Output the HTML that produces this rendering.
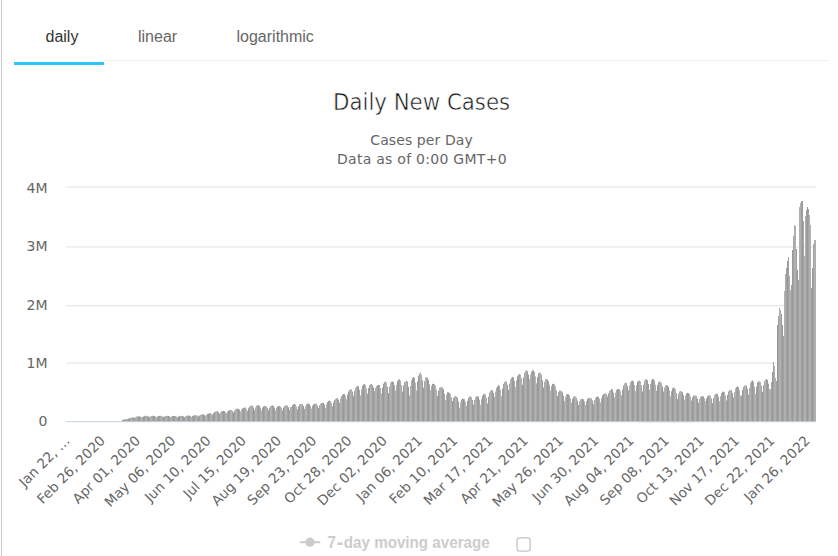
<!DOCTYPE html>
<html><head><meta charset="utf-8"><title>Daily New Cases</title>
<style>
html,body{margin:0;padding:0;background:#fff;}
body{width:838px;height:556px;overflow:hidden;position:relative;}
svg{position:absolute;left:0;top:0;display:block;}
.tabs text{font-family:"Liberation Sans",Arial,sans-serif;font-size:16px;}
.lc{font-family:"DejaVu Sans","Liberation Sans",sans-serif;}
</style></head><body>
<svg width="838" height="556" viewBox="0 0 838 556">
<rect x="0" y="0" width="838" height="556" fill="#fff"/>
<rect x="1" y="0" width="1" height="556" fill="#cccccc"/>
<g class="tabs">
<rect x="104" y="60" width="724" height="1" fill="#eeeeee"/>
<rect x="14" y="62" width="90" height="3" fill="#2bc6fc"/>
<text x="45.5" y="42" fill="#333">daily</text>
<text x="138" y="42" fill="#666">linear</text>
<text x="236.5" y="42" fill="#666">logarithmic</text>
</g>
<g class="lc">
<text x="421.6" y="110" text-anchor="middle" fill="#1a1a1a" stroke="#fff" stroke-width="0.5" style="font-family:'DejaVu Sans Condensed','DejaVu Sans',sans-serif;font-size:23.7px">Daily New Cases</text>
<text x="421.6" y="144.5" text-anchor="middle" fill="#666" font-size="14" letter-spacing="0.1">Cases per Day</text>
<text x="421.9" y="163.6" text-anchor="middle" fill="#666" font-size="14" letter-spacing="0.27">Data as of 0:00 GMT+0</text>
</g>
<g fill="#e2e2e2">
<rect x="66" y="186.45" width="750" height="1"/>
<rect x="66" y="246.45" width="750" height="1"/>
<rect x="66" y="305.3" width="750" height="1"/>
<rect x="66" y="362.6" width="750" height="1"/>
</g>
<g class="lc" fill="#666" font-size="14" text-anchor="end">
<text x="47.5" y="192.7">4M</text>
<text x="47.5" y="250.8">3M</text>
<text x="47.5" y="309.7">2M</text>
<text x="47.5" y="367.8">1M</text>
<text x="47.5" y="425.6">0</text>
</g>
<g>
<rect x="122" y="419.8" width="1" height="2.2" fill="#a7a7a7"/>
<rect x="123" y="419.6" width="1" height="2.4" fill="#9a9a9a"/>
<rect x="124" y="419.4" width="1" height="2.6" fill="#9d9d9d"/>
<rect x="125" y="419.1" width="1" height="2.9" fill="#acacac"/>
<rect x="126" y="419.0" width="1" height="3.0" fill="#b2b2b2"/>
<rect x="127" y="419.1" width="1" height="2.9" fill="#a7a7a7"/>
<rect x="128" y="418.6" width="1" height="3.4" fill="#9a9a9a"/>
<rect x="129" y="418.1" width="1" height="3.9" fill="#9d9d9d"/>
<rect x="130" y="417.8" width="1" height="4.2" fill="#acacac"/>
<rect x="131" y="417.5" width="1" height="4.5" fill="#b2b2b2"/>
<rect x="132" y="417.4" width="1" height="4.6" fill="#a6a6a6"/>
<rect x="133" y="417.5" width="1" height="4.5" fill="#9a9a9a"/>
<rect x="134" y="417.9" width="1" height="4.1" fill="#9d9d9d"/>
<rect x="135" y="417.1" width="1" height="4.9" fill="#acacac"/>
<rect x="136" y="416.5" width="1" height="5.5" fill="#b2b2b2"/>
<rect x="137" y="416.4" width="1" height="5.6" fill="#a6a6a6"/>
<rect x="138" y="416.3" width="1" height="5.7" fill="#9a9a9a"/>
<rect x="139" y="416.3" width="1" height="5.7" fill="#9e9e9e"/>
<rect x="140" y="416.7" width="1" height="5.3" fill="#acacac"/>
<rect x="141" y="416.7" width="1" height="5.3" fill="#b2b2b2"/>
<rect x="142" y="417.3" width="1" height="4.7" fill="#a6a6a6"/>
<rect x="143" y="416.5" width="1" height="5.5" fill="#9a9a9a"/>
<rect x="144" y="416.0" width="1" height="6.0" fill="#9e9e9e"/>
<rect x="145" y="415.8" width="1" height="6.2" fill="#acacac"/>
<rect x="146" y="415.8" width="1" height="6.2" fill="#b2b2b2"/>
<rect x="147" y="415.9" width="1" height="6.1" fill="#a6a6a6"/>
<rect x="148" y="416.4" width="1" height="5.6" fill="#9a9a9a"/>
<rect x="149" y="417.1" width="1" height="4.9" fill="#9e9e9e"/>
<rect x="150" y="416.4" width="1" height="5.6" fill="#adadad"/>
<rect x="151" y="416.0" width="1" height="6.0" fill="#b1b1b1"/>
<rect x="152" y="415.8" width="1" height="6.2" fill="#a6a6a6"/>
<rect x="153" y="415.8" width="1" height="6.2" fill="#9a9a9a"/>
<rect x="154" y="415.9" width="1" height="6.1" fill="#9e9e9e"/>
<rect x="155" y="416.4" width="1" height="5.6" fill="#adadad"/>
<rect x="156" y="417.1" width="1" height="4.9" fill="#b1b1b1"/>
<rect x="157" y="416.4" width="1" height="5.6" fill="#a6a6a6"/>
<rect x="158" y="416.0" width="1" height="6.0" fill="#9a9a9a"/>
<rect x="159" y="415.8" width="1" height="6.2" fill="#9e9e9e"/>
<rect x="160" y="415.8" width="1" height="6.2" fill="#adadad"/>
<rect x="161" y="415.9" width="1" height="6.1" fill="#b1b1b1"/>
<rect x="162" y="416.4" width="1" height="5.6" fill="#a5a5a5"/>
<rect x="163" y="417.1" width="1" height="4.9" fill="#9a9a9a"/>
<rect x="164" y="416.4" width="1" height="5.6" fill="#9e9e9e"/>
<rect x="165" y="416.0" width="1" height="6.0" fill="#adadad"/>
<rect x="166" y="415.9" width="1" height="6.1" fill="#b1b1b1"/>
<rect x="167" y="415.8" width="1" height="6.2" fill="#a5a5a5"/>
<rect x="168" y="416.0" width="1" height="6.0" fill="#9a9a9a"/>
<rect x="169" y="416.4" width="1" height="5.6" fill="#9e9e9e"/>
<rect x="170" y="417.2" width="1" height="4.8" fill="#adadad"/>
<rect x="171" y="416.4" width="1" height="5.6" fill="#b1b1b1"/>
<rect x="172" y="416.0" width="1" height="6.0" fill="#a5a5a5"/>
<rect x="173" y="415.9" width="1" height="6.1" fill="#999999"/>
<rect x="174" y="415.9" width="1" height="6.1" fill="#9f9f9f"/>
<rect x="175" y="416.0" width="1" height="6.0" fill="#adadad"/>
<rect x="176" y="416.5" width="1" height="5.5" fill="#b1b1b1"/>
<rect x="177" y="417.2" width="1" height="4.8" fill="#a5a5a5"/>
<rect x="178" y="416.5" width="1" height="5.5" fill="#999999"/>
<rect x="179" y="416.1" width="1" height="5.9" fill="#9f9f9f"/>
<rect x="180" y="415.9" width="1" height="6.1" fill="#adadad"/>
<rect x="181" y="415.8" width="1" height="6.2" fill="#b1b1b1"/>
<rect x="182" y="415.9" width="1" height="6.1" fill="#a5a5a5"/>
<rect x="183" y="416.4" width="1" height="5.6" fill="#999999"/>
<rect x="184" y="417.1" width="1" height="4.9" fill="#9f9f9f"/>
<rect x="185" y="416.3" width="1" height="5.7" fill="#adadad"/>
<rect x="186" y="415.8" width="1" height="6.2" fill="#b1b1b1"/>
<rect x="187" y="415.6" width="1" height="6.4" fill="#a5a5a5"/>
<rect x="188" y="415.5" width="1" height="6.5" fill="#999999"/>
<rect x="189" y="415.6" width="1" height="6.4" fill="#9f9f9f"/>
<rect x="190" y="416.1" width="1" height="5.9" fill="#aeaeae"/>
<rect x="191" y="416.8" width="1" height="5.2" fill="#b1b1b1"/>
<rect x="192" y="416.0" width="1" height="6.0" fill="#a4a4a4"/>
<rect x="193" y="415.5" width="1" height="6.5" fill="#999999"/>
<rect x="194" y="415.3" width="1" height="6.7" fill="#9f9f9f"/>
<rect x="195" y="415.2" width="1" height="6.8" fill="#aeaeae"/>
<rect x="196" y="415.3" width="1" height="6.7" fill="#b1b1b1"/>
<rect x="197" y="415.7" width="1" height="6.3" fill="#a4a4a4"/>
<rect x="198" y="416.5" width="1" height="5.5" fill="#999999"/>
<rect x="199" y="415.5" width="1" height="6.5" fill="#9f9f9f"/>
<rect x="200" y="414.8" width="1" height="7.2" fill="#aeaeae"/>
<rect x="201" y="414.5" width="1" height="7.5" fill="#b1b1b1"/>
<rect x="202" y="414.3" width="1" height="7.7" fill="#a4a4a4"/>
<rect x="203" y="414.4" width="1" height="7.6" fill="#999999"/>
<rect x="204" y="414.9" width="1" height="7.1" fill="#9f9f9f"/>
<rect x="205" y="415.8" width="1" height="6.2" fill="#aeaeae"/>
<rect x="206" y="414.6" width="1" height="7.4" fill="#b1b1b1"/>
<rect x="207" y="413.8" width="1" height="8.2" fill="#a4a4a4"/>
<rect x="208" y="413.5" width="1" height="8.5" fill="#999999"/>
<rect x="209" y="413.3" width="1" height="8.7" fill="#a0a0a0"/>
<rect x="210" y="413.2" width="1" height="8.8" fill="#aeaeae"/>
<rect x="211" y="413.7" width="1" height="8.3" fill="#b1b1b1"/>
<rect x="212" y="414.7" width="1" height="7.3" fill="#a4a4a4"/>
<rect x="213" y="413.1" width="1" height="8.9" fill="#999999"/>
<rect x="214" y="412.1" width="1" height="9.9" fill="#a0a0a0"/>
<rect x="215" y="411.5" width="1" height="10.5" fill="#aeaeae"/>
<rect x="216" y="411.1" width="1" height="10.9" fill="#b1b1b1"/>
<rect x="217" y="411.3" width="1" height="10.7" fill="#a4a4a4"/>
<rect x="218" y="412.2" width="1" height="9.8" fill="#999999"/>
<rect x="219" y="413.7" width="1" height="8.3" fill="#a0a0a0"/>
<rect x="220" y="412.2" width="1" height="9.8" fill="#aeaeae"/>
<rect x="221" y="411.3" width="1" height="10.7" fill="#b1b1b1"/>
<rect x="222" y="411.0" width="1" height="11.0" fill="#a3a3a3"/>
<rect x="223" y="410.9" width="1" height="11.1" fill="#999999"/>
<rect x="224" y="411.2" width="1" height="10.8" fill="#a0a0a0"/>
<rect x="225" y="412.0" width="1" height="10.0" fill="#aeaeae"/>
<rect x="226" y="413.4" width="1" height="8.6" fill="#b1b1b1"/>
<rect x="227" y="411.7" width="1" height="10.3" fill="#a3a3a3"/>
<rect x="228" y="410.6" width="1" height="11.4" fill="#999999"/>
<rect x="229" y="410.1" width="1" height="11.9" fill="#a0a0a0"/>
<rect x="230" y="409.9" width="1" height="12.1" fill="#afafaf"/>
<rect x="231" y="410.0" width="1" height="12.0" fill="#b0b0b0"/>
<rect x="232" y="410.9" width="1" height="11.1" fill="#a3a3a3"/>
<rect x="233" y="412.5" width="1" height="9.5" fill="#999999"/>
<rect x="234" y="410.6" width="1" height="11.4" fill="#a0a0a0"/>
<rect x="235" y="409.3" width="1" height="12.7" fill="#afafaf"/>
<rect x="236" y="408.8" width="1" height="13.2" fill="#b0b0b0"/>
<rect x="237" y="408.6" width="1" height="13.4" fill="#a3a3a3"/>
<rect x="238" y="408.8" width="1" height="13.2" fill="#999999"/>
<rect x="239" y="409.8" width="1" height="12.2" fill="#a0a0a0"/>
<rect x="240" y="411.6" width="1" height="10.4" fill="#afafaf"/>
<rect x="241" y="409.6" width="1" height="12.4" fill="#b0b0b0"/>
<rect x="242" y="408.3" width="1" height="13.7" fill="#a3a3a3"/>
<rect x="243" y="407.8" width="1" height="14.2" fill="#999999"/>
<rect x="244" y="407.5" width="1" height="14.5" fill="#a1a1a1"/>
<rect x="245" y="407.6" width="1" height="14.4" fill="#afafaf"/>
<rect x="246" y="408.8" width="1" height="13.2" fill="#b0b0b0"/>
<rect x="247" y="410.9" width="1" height="11.1" fill="#a3a3a3"/>
<rect x="248" y="408.3" width="1" height="13.7" fill="#999999"/>
<rect x="249" y="406.6" width="1" height="15.4" fill="#a1a1a1"/>
<rect x="250" y="405.8" width="1" height="16.2" fill="#afafaf"/>
<rect x="251" y="405.4" width="1" height="16.6" fill="#b0b0b0"/>
<rect x="252" y="405.8" width="1" height="16.2" fill="#a3a3a3"/>
<rect x="253" y="407.5" width="1" height="14.5" fill="#999999"/>
<rect x="254" y="410.2" width="1" height="11.8" fill="#a1a1a1"/>
<rect x="255" y="407.4" width="1" height="14.6" fill="#afafaf"/>
<rect x="256" y="405.8" width="1" height="16.2" fill="#b0b0b0"/>
<rect x="257" y="405.2" width="1" height="16.8" fill="#a2a2a2"/>
<rect x="258" y="405.2" width="1" height="16.8" fill="#999999"/>
<rect x="259" y="405.8" width="1" height="16.2" fill="#a1a1a1"/>
<rect x="260" y="407.6" width="1" height="14.4" fill="#afafaf"/>
<rect x="261" y="410.3" width="1" height="11.7" fill="#b0b0b0"/>
<rect x="262" y="407.7" width="1" height="14.3" fill="#a2a2a2"/>
<rect x="263" y="406.3" width="1" height="15.7" fill="#999999"/>
<rect x="264" y="406.0" width="1" height="16.0" fill="#a1a1a1"/>
<rect x="265" y="406.1" width="1" height="15.9" fill="#afafaf"/>
<rect x="266" y="406.4" width="1" height="15.6" fill="#b0b0b0"/>
<rect x="267" y="407.9" width="1" height="14.1" fill="#a2a2a2"/>
<rect x="268" y="410.3" width="1" height="11.7" fill="#999999"/>
<rect x="269" y="407.7" width="1" height="14.3" fill="#a1a1a1"/>
<rect x="270" y="406.1" width="1" height="15.9" fill="#afafaf"/>
<rect x="271" y="405.5" width="1" height="16.5" fill="#b0b0b0"/>
<rect x="272" y="405.3" width="1" height="16.7" fill="#a2a2a2"/>
<rect x="273" y="405.9" width="1" height="16.1" fill="#999999"/>
<rect x="274" y="407.7" width="1" height="14.3" fill="#a1a1a1"/>
<rect x="275" y="410.4" width="1" height="11.6" fill="#b0b0b0"/>
<rect x="276" y="407.8" width="1" height="14.2" fill="#b0b0b0"/>
<rect x="277" y="406.4" width="1" height="15.6" fill="#a2a2a2"/>
<rect x="278" y="406.0" width="1" height="16.0" fill="#999999"/>
<rect x="279" y="406.0" width="1" height="16.0" fill="#a2a2a2"/>
<rect x="280" y="406.4" width="1" height="15.6" fill="#b0b0b0"/>
<rect x="281" y="407.8" width="1" height="14.2" fill="#b0b0b0"/>
<rect x="282" y="410.2" width="1" height="11.8" fill="#a2a2a2"/>
<rect x="283" y="407.7" width="1" height="14.3" fill="#999999"/>
<rect x="284" y="406.1" width="1" height="15.9" fill="#a2a2a2"/>
<rect x="285" y="405.5" width="1" height="16.5" fill="#b0b0b0"/>
<rect x="286" y="405.3" width="1" height="16.7" fill="#b0b0b0"/>
<rect x="287" y="405.7" width="1" height="16.3" fill="#a1a1a1"/>
<rect x="288" y="407.2" width="1" height="14.8" fill="#999999"/>
<rect x="289" y="409.8" width="1" height="12.2" fill="#a2a2a2"/>
<rect x="290" y="406.9" width="1" height="15.1" fill="#b0b0b0"/>
<rect x="291" y="406.9" width="1" height="15.1" fill="#afafaf"/>
<rect x="292" y="405.0" width="1" height="17.0" fill="#a1a1a1"/>
<rect x="293" y="404.3" width="1" height="17.7" fill="#999999"/>
<rect x="294" y="404.0" width="1" height="18.0" fill="#a2a2a2"/>
<rect x="295" y="404.5" width="1" height="17.5" fill="#b0b0b0"/>
<rect x="296" y="406.4" width="1" height="15.6" fill="#afafaf"/>
<rect x="297" y="409.3" width="1" height="12.7" fill="#a1a1a1"/>
<rect x="298" y="406.3" width="1" height="15.7" fill="#999999"/>
<rect x="299" y="404.5" width="1" height="17.5" fill="#a2a2a2"/>
<rect x="300" y="404.0" width="1" height="18.0" fill="#b0b0b0"/>
<rect x="301" y="403.9" width="1" height="18.1" fill="#afafaf"/>
<rect x="302" y="404.4" width="1" height="17.6" fill="#a1a1a1"/>
<rect x="303" y="406.1" width="1" height="15.9" fill="#999999"/>
<rect x="304" y="408.9" width="1" height="13.1" fill="#a2a2a2"/>
<rect x="305" y="406.0" width="1" height="16.0" fill="#b0b0b0"/>
<rect x="306" y="404.3" width="1" height="17.7" fill="#afafaf"/>
<rect x="307" y="403.7" width="1" height="18.3" fill="#a1a1a1"/>
<rect x="308" y="403.6" width="1" height="18.4" fill="#999999"/>
<rect x="309" y="404.1" width="1" height="17.9" fill="#a3a3a3"/>
<rect x="310" y="405.8" width="1" height="16.2" fill="#b0b0b0"/>
<rect x="311" y="408.5" width="1" height="13.5" fill="#afafaf"/>
<rect x="312" y="405.8" width="1" height="16.2" fill="#a1a1a1"/>
<rect x="313" y="404.2" width="1" height="17.8" fill="#999999"/>
<rect x="314" y="403.7" width="1" height="18.3" fill="#a3a3a3"/>
<rect x="315" y="403.6" width="1" height="18.4" fill="#b0b0b0"/>
<rect x="316" y="403.9" width="1" height="18.1" fill="#afafaf"/>
<rect x="317" y="405.6" width="1" height="16.4" fill="#a1a1a1"/>
<rect x="318" y="408.2" width="1" height="13.8" fill="#999999"/>
<rect x="319" y="405.4" width="1" height="16.6" fill="#a3a3a3"/>
<rect x="320" y="403.6" width="1" height="18.4" fill="#b0b0b0"/>
<rect x="321" y="403.0" width="1" height="19.0" fill="#afafaf"/>
<rect x="322" y="402.7" width="1" height="19.3" fill="#a0a0a0"/>
<rect x="323" y="403.0" width="1" height="19.0" fill="#999999"/>
<rect x="324" y="404.7" width="1" height="17.3" fill="#a3a3a3"/>
<rect x="325" y="407.8" width="1" height="14.2" fill="#b0b0b0"/>
<rect x="326" y="404.3" width="1" height="17.7" fill="#afafaf"/>
<rect x="327" y="401.9" width="1" height="20.1" fill="#a0a0a0"/>
<rect x="328" y="401.0" width="1" height="21.0" fill="#999999"/>
<rect x="329" y="400.5" width="1" height="21.5" fill="#a3a3a3"/>
<rect x="330" y="401.0" width="1" height="21.0" fill="#b0b0b0"/>
<rect x="331" y="403.1" width="1" height="18.9" fill="#afafaf"/>
<rect x="332" y="406.4" width="1" height="15.6" fill="#a0a0a0"/>
<rect x="333" y="402.3" width="1" height="19.7" fill="#999999"/>
<rect x="334" y="399.9" width="1" height="22.1" fill="#a3a3a3"/>
<rect x="335" y="398.9" width="1" height="23.1" fill="#b1b1b1"/>
<rect x="336" y="398.2" width="1" height="23.8" fill="#aeaeae"/>
<rect x="337" y="398.2" width="1" height="23.8" fill="#a0a0a0"/>
<rect x="338" y="399.8" width="1" height="22.2" fill="#999999"/>
<rect x="339" y="402.6" width="1" height="19.4" fill="#a3a3a3"/>
<rect x="340" y="398.6" width="1" height="23.4" fill="#b1b1b1"/>
<rect x="341" y="396.0" width="1" height="26.0" fill="#aeaeae"/>
<rect x="342" y="394.7" width="1" height="27.3" fill="#a0a0a0"/>
<rect x="343" y="394.0" width="1" height="28.0" fill="#999999"/>
<rect x="344" y="394.0" width="1" height="28.0" fill="#a4a4a4"/>
<rect x="345" y="395.8" width="1" height="26.2" fill="#b1b1b1"/>
<rect x="346" y="399.2" width="1" height="22.8" fill="#aeaeae"/>
<rect x="347" y="394.6" width="1" height="27.4" fill="#a0a0a0"/>
<rect x="348" y="391.5" width="1" height="30.5" fill="#999999"/>
<rect x="349" y="390.0" width="1" height="32.0" fill="#a4a4a4"/>
<rect x="350" y="389.1" width="1" height="32.9" fill="#b1b1b1"/>
<rect x="351" y="389.4" width="1" height="32.6" fill="#aeaeae"/>
<rect x="352" y="391.7" width="1" height="30.3" fill="#a0a0a0"/>
<rect x="353" y="395.8" width="1" height="26.2" fill="#999999"/>
<rect x="354" y="391.1" width="1" height="30.9" fill="#a4a4a4"/>
<rect x="355" y="387.9" width="1" height="34.1" fill="#b1b1b1"/>
<rect x="356" y="386.5" width="1" height="35.5" fill="#aeaeae"/>
<rect x="357" y="385.9" width="1" height="36.1" fill="#9f9f9f"/>
<rect x="358" y="386.4" width="1" height="35.6" fill="#999999"/>
<rect x="359" y="389.7" width="1" height="32.3" fill="#a4a4a4"/>
<rect x="360" y="395.3" width="1" height="26.7" fill="#b1b1b1"/>
<rect x="361" y="389.4" width="1" height="32.6" fill="#aeaeae"/>
<rect x="362" y="385.7" width="1" height="36.3" fill="#9f9f9f"/>
<rect x="363" y="384.4" width="1" height="37.6" fill="#999999"/>
<rect x="364" y="384.0" width="1" height="38.0" fill="#a4a4a4"/>
<rect x="365" y="384.9" width="1" height="37.1" fill="#b1b1b1"/>
<rect x="366" y="388.4" width="1" height="33.6" fill="#aeaeae"/>
<rect x="367" y="393.7" width="1" height="28.3" fill="#9f9f9f"/>
<rect x="368" y="388.1" width="1" height="33.9" fill="#999999"/>
<rect x="369" y="385.0" width="1" height="37.0" fill="#a4a4a4"/>
<rect x="370" y="384.1" width="1" height="37.9" fill="#b1b1b1"/>
<rect x="371" y="383.9" width="1" height="38.1" fill="#aeaeae"/>
<rect x="372" y="384.9" width="1" height="37.1" fill="#9f9f9f"/>
<rect x="373" y="387.4" width="1" height="34.6" fill="#999999"/>
<rect x="374" y="391.0" width="1" height="31.0" fill="#a5a5a5"/>
<rect x="375" y="387.8" width="1" height="34.2" fill="#b1b1b1"/>
<rect x="376" y="385.9" width="1" height="36.1" fill="#aeaeae"/>
<rect x="377" y="385.4" width="1" height="36.6" fill="#9f9f9f"/>
<rect x="378" y="384.8" width="1" height="37.2" fill="#999999"/>
<rect x="379" y="385.1" width="1" height="36.9" fill="#a5a5a5"/>
<rect x="380" y="387.9" width="1" height="34.1" fill="#b1b1b1"/>
<rect x="381" y="393.3" width="1" height="28.7" fill="#adadad"/>
<rect x="382" y="387.7" width="1" height="34.3" fill="#9f9f9f"/>
<rect x="383" y="383.7" width="1" height="38.3" fill="#999999"/>
<rect x="384" y="382.1" width="1" height="39.9" fill="#a5a5a5"/>
<rect x="385" y="381.4" width="1" height="40.6" fill="#b1b1b1"/>
<rect x="386" y="382.6" width="1" height="39.4" fill="#adadad"/>
<rect x="387" y="386.7" width="1" height="35.3" fill="#9f9f9f"/>
<rect x="388" y="393.1" width="1" height="28.9" fill="#999999"/>
<rect x="389" y="386.5" width="1" height="35.5" fill="#a5a5a5"/>
<rect x="390" y="382.7" width="1" height="39.3" fill="#b1b1b1"/>
<rect x="391" y="381.6" width="1" height="40.4" fill="#adadad"/>
<rect x="392" y="381.4" width="1" height="40.6" fill="#9e9e9e"/>
<rect x="393" y="382.1" width="1" height="39.9" fill="#9a9a9a"/>
<rect x="394" y="385.3" width="1" height="36.7" fill="#a5a5a5"/>
<rect x="395" y="390.5" width="1" height="31.5" fill="#b1b1b1"/>
<rect x="396" y="384.8" width="1" height="37.2" fill="#adadad"/>
<rect x="397" y="381.0" width="1" height="41.0" fill="#9e9e9e"/>
<rect x="398" y="379.6" width="1" height="42.4" fill="#9a9a9a"/>
<rect x="399" y="379.1" width="1" height="42.9" fill="#a5a5a5"/>
<rect x="400" y="380.6" width="1" height="41.4" fill="#b1b1b1"/>
<rect x="401" y="385.0" width="1" height="37.0" fill="#adadad"/>
<rect x="402" y="391.6" width="1" height="30.4" fill="#9e9e9e"/>
<rect x="403" y="385.7" width="1" height="36.3" fill="#9a9a9a"/>
<rect x="404" y="382.2" width="1" height="39.8" fill="#a6a6a6"/>
<rect x="405" y="381.4" width="1" height="40.6" fill="#b1b1b1"/>
<rect x="406" y="380.8" width="1" height="41.2" fill="#adadad"/>
<rect x="407" y="381.7" width="1" height="40.3" fill="#9e9e9e"/>
<rect x="408" y="386.8" width="1" height="35.2" fill="#9a9a9a"/>
<rect x="409" y="395.5" width="1" height="26.5" fill="#a6a6a6"/>
<rect x="410" y="386.0" width="1" height="36.0" fill="#b1b1b1"/>
<rect x="411" y="380.1" width="1" height="41.9" fill="#adadad"/>
<rect x="412" y="378.0" width="1" height="44.0" fill="#9e9e9e"/>
<rect x="413" y="377.0" width="1" height="45.0" fill="#9a9a9a"/>
<rect x="414" y="377.9" width="1" height="44.1" fill="#a6a6a6"/>
<rect x="415" y="382.7" width="1" height="39.3" fill="#b2b2b2"/>
<rect x="416" y="390.4" width="1" height="31.6" fill="#acacac"/>
<rect x="417" y="381.4" width="1" height="40.6" fill="#9e9e9e"/>
<rect x="418" y="375.7" width="1" height="46.3" fill="#9a9a9a"/>
<rect x="419" y="373.5" width="1" height="48.5" fill="#a6a6a6"/>
<rect x="420" y="372.5" width="1" height="49.5" fill="#b2b2b2"/>
<rect x="421" y="374.6" width="1" height="47.4" fill="#acacac"/>
<rect x="422" y="380.2" width="1" height="41.8" fill="#9e9e9e"/>
<rect x="423" y="387.8" width="1" height="34.2" fill="#9a9a9a"/>
<rect x="424" y="381.1" width="1" height="40.9" fill="#a6a6a6"/>
<rect x="425" y="377.6" width="1" height="44.4" fill="#b2b2b2"/>
<rect x="426" y="377.1" width="1" height="44.9" fill="#acacac"/>
<rect x="427" y="377.6" width="1" height="44.4" fill="#9e9e9e"/>
<rect x="428" y="379.6" width="1" height="42.4" fill="#9a9a9a"/>
<rect x="429" y="384.1" width="1" height="37.9" fill="#a6a6a6"/>
<rect x="430" y="389.9" width="1" height="32.1" fill="#b2b2b2"/>
<rect x="431" y="385.8" width="1" height="36.2" fill="#acacac"/>
<rect x="432" y="383.8" width="1" height="38.2" fill="#9d9d9d"/>
<rect x="433" y="383.9" width="1" height="38.1" fill="#9a9a9a"/>
<rect x="434" y="384.3" width="1" height="37.7" fill="#a7a7a7"/>
<rect x="435" y="385.7" width="1" height="36.3" fill="#b2b2b2"/>
<rect x="436" y="389.6" width="1" height="32.4" fill="#acacac"/>
<rect x="437" y="395.9" width="1" height="26.1" fill="#9d9d9d"/>
<rect x="438" y="390.8" width="1" height="31.2" fill="#9a9a9a"/>
<rect x="439" y="387.8" width="1" height="34.2" fill="#a7a7a7"/>
<rect x="440" y="387.2" width="1" height="34.8" fill="#b2b2b2"/>
<rect x="441" y="387.2" width="1" height="34.8" fill="#acacac"/>
<rect x="442" y="387.5" width="1" height="34.5" fill="#9d9d9d"/>
<rect x="443" y="389.3" width="1" height="32.7" fill="#9a9a9a"/>
<rect x="444" y="393.7" width="1" height="28.3" fill="#a7a7a7"/>
<rect x="445" y="399.9" width="1" height="22.1" fill="#b2b2b2"/>
<rect x="446" y="394.9" width="1" height="27.1" fill="#acacac"/>
<rect x="447" y="392.4" width="1" height="29.6" fill="#9d9d9d"/>
<rect x="448" y="392.3" width="1" height="29.7" fill="#9a9a9a"/>
<rect x="449" y="392.8" width="1" height="29.2" fill="#a7a7a7"/>
<rect x="450" y="394.1" width="1" height="27.9" fill="#b2b2b2"/>
<rect x="451" y="397.1" width="1" height="24.9" fill="#ababab"/>
<rect x="452" y="401.1" width="1" height="20.9" fill="#9d9d9d"/>
<rect x="453" y="398.0" width="1" height="24.0" fill="#9a9a9a"/>
<rect x="454" y="396.3" width="1" height="25.7" fill="#a7a7a7"/>
<rect x="455" y="396.1" width="1" height="25.9" fill="#b2b2b2"/>
<rect x="456" y="396.5" width="1" height="25.5" fill="#ababab"/>
<rect x="457" y="397.7" width="1" height="24.3" fill="#9d9d9d"/>
<rect x="458" y="401.6" width="1" height="20.4" fill="#9a9a9a"/>
<rect x="459" y="407.7" width="1" height="14.3" fill="#a7a7a7"/>
<rect x="460" y="402.2" width="1" height="19.8" fill="#b2b2b2"/>
<rect x="461" y="399.5" width="1" height="22.5" fill="#ababab"/>
<rect x="462" y="398.9" width="1" height="23.1" fill="#9d9d9d"/>
<rect x="463" y="398.8" width="1" height="23.2" fill="#9a9a9a"/>
<rect x="464" y="399.2" width="1" height="22.8" fill="#a8a8a8"/>
<rect x="465" y="401.7" width="1" height="20.3" fill="#b2b2b2"/>
<rect x="466" y="406.1" width="1" height="15.9" fill="#ababab"/>
<rect x="467" y="401.0" width="1" height="21.0" fill="#9d9d9d"/>
<rect x="468" y="397.8" width="1" height="24.2" fill="#9a9a9a"/>
<rect x="469" y="396.5" width="1" height="25.5" fill="#a8a8a8"/>
<rect x="470" y="396.3" width="1" height="25.7" fill="#b2b2b2"/>
<rect x="471" y="397.2" width="1" height="24.8" fill="#ababab"/>
<rect x="472" y="400.1" width="1" height="21.9" fill="#9c9c9c"/>
<rect x="473" y="404.5" width="1" height="17.5" fill="#9b9b9b"/>
<rect x="474" y="400.0" width="1" height="22.0" fill="#a8a8a8"/>
<rect x="475" y="397.3" width="1" height="24.7" fill="#b2b2b2"/>
<rect x="476" y="396.5" width="1" height="25.5" fill="#ababab"/>
<rect x="477" y="396.1" width="1" height="25.9" fill="#9c9c9c"/>
<rect x="478" y="396.7" width="1" height="25.3" fill="#9b9b9b"/>
<rect x="479" y="399.7" width="1" height="22.3" fill="#a8a8a8"/>
<rect x="480" y="405.0" width="1" height="17.0" fill="#b2b2b2"/>
<rect x="481" y="399.3" width="1" height="22.7" fill="#ababab"/>
<rect x="482" y="395.7" width="1" height="26.3" fill="#9c9c9c"/>
<rect x="483" y="394.3" width="1" height="27.7" fill="#9b9b9b"/>
<rect x="484" y="393.8" width="1" height="28.2" fill="#a8a8a8"/>
<rect x="485" y="394.4" width="1" height="27.6" fill="#b2b2b2"/>
<rect x="486" y="397.7" width="1" height="24.3" fill="#aaaaaa"/>
<rect x="487" y="403.5" width="1" height="18.5" fill="#9c9c9c"/>
<rect x="488" y="396.8" width="1" height="25.2" fill="#9b9b9b"/>
<rect x="489" y="392.5" width="1" height="29.5" fill="#a8a8a8"/>
<rect x="490" y="390.8" width="1" height="31.2" fill="#b2b2b2"/>
<rect x="491" y="390.1" width="1" height="31.9" fill="#aaaaaa"/>
<rect x="492" y="390.3" width="1" height="31.7" fill="#9c9c9c"/>
<rect x="493" y="392.9" width="1" height="29.1" fill="#9b9b9b"/>
<rect x="494" y="396.9" width="1" height="25.1" fill="#a8a8a8"/>
<rect x="495" y="391.4" width="1" height="30.6" fill="#b2b2b2"/>
<rect x="496" y="387.8" width="1" height="34.2" fill="#aaaaaa"/>
<rect x="497" y="386.2" width="1" height="35.8" fill="#9c9c9c"/>
<rect x="498" y="385.3" width="1" height="36.7" fill="#9b9b9b"/>
<rect x="499" y="385.8" width="1" height="36.2" fill="#a9a9a9"/>
<rect x="500" y="389.6" width="1" height="32.4" fill="#b2b2b2"/>
<rect x="501" y="396.3" width="1" height="25.7" fill="#aaaaaa"/>
<rect x="502" y="388.7" width="1" height="33.3" fill="#9c9c9c"/>
<rect x="503" y="383.8" width="1" height="38.2" fill="#9b9b9b"/>
<rect x="504" y="382.0" width="1" height="40.0" fill="#a9a9a9"/>
<rect x="505" y="381.1" width="1" height="40.9" fill="#b2b2b2"/>
<rect x="506" y="381.7" width="1" height="40.3" fill="#aaaaaa"/>
<rect x="507" y="384.9" width="1" height="37.1" fill="#9c9c9c"/>
<rect x="508" y="389.9" width="1" height="32.1" fill="#9b9b9b"/>
<rect x="509" y="383.6" width="1" height="38.4" fill="#a9a9a9"/>
<rect x="510" y="379.5" width="1" height="42.5" fill="#b2b2b2"/>
<rect x="511" y="377.8" width="1" height="44.2" fill="#aaaaaa"/>
<rect x="512" y="376.9" width="1" height="45.1" fill="#9c9c9c"/>
<rect x="513" y="377.5" width="1" height="44.5" fill="#9b9b9b"/>
<rect x="514" y="381.1" width="1" height="40.9" fill="#a9a9a9"/>
<rect x="515" y="386.9" width="1" height="35.1" fill="#b2b2b2"/>
<rect x="516" y="380.3" width="1" height="41.7" fill="#aaaaaa"/>
<rect x="517" y="376.2" width="1" height="45.8" fill="#9c9c9c"/>
<rect x="518" y="374.6" width="1" height="47.4" fill="#9b9b9b"/>
<rect x="519" y="374.0" width="1" height="48.0" fill="#a9a9a9"/>
<rect x="520" y="374.7" width="1" height="47.3" fill="#b2b2b2"/>
<rect x="521" y="378.4" width="1" height="43.6" fill="#a9a9a9"/>
<rect x="522" y="384.8" width="1" height="37.2" fill="#9b9b9b"/>
<rect x="523" y="377.5" width="1" height="44.5" fill="#9b9b9b"/>
<rect x="524" y="372.7" width="1" height="49.3" fill="#a9a9a9"/>
<rect x="525" y="370.8" width="1" height="51.2" fill="#b2b2b2"/>
<rect x="526" y="370.2" width="1" height="51.8" fill="#a9a9a9"/>
<rect x="527" y="371.3" width="1" height="50.7" fill="#9b9b9b"/>
<rect x="528" y="374.6" width="1" height="47.4" fill="#9b9b9b"/>
<rect x="529" y="379.2" width="1" height="42.8" fill="#aaaaaa"/>
<rect x="530" y="374.5" width="1" height="47.5" fill="#b2b2b2"/>
<rect x="531" y="371.4" width="1" height="50.6" fill="#a9a9a9"/>
<rect x="532" y="370.4" width="1" height="51.6" fill="#9b9b9b"/>
<rect x="533" y="370.5" width="1" height="51.5" fill="#9c9c9c"/>
<rect x="534" y="371.9" width="1" height="50.1" fill="#aaaaaa"/>
<rect x="535" y="376.3" width="1" height="45.7" fill="#b2b2b2"/>
<rect x="536" y="383.3" width="1" height="38.7" fill="#a9a9a9"/>
<rect x="537" y="377.2" width="1" height="44.8" fill="#9b9b9b"/>
<rect x="538" y="373.4" width="1" height="48.6" fill="#9c9c9c"/>
<rect x="539" y="372.5" width="1" height="49.5" fill="#aaaaaa"/>
<rect x="540" y="372.8" width="1" height="49.2" fill="#b2b2b2"/>
<rect x="541" y="375.0" width="1" height="47.0" fill="#a9a9a9"/>
<rect x="542" y="380.3" width="1" height="41.7" fill="#9b9b9b"/>
<rect x="543" y="387.5" width="1" height="34.5" fill="#9c9c9c"/>
<rect x="544" y="381.9" width="1" height="40.1" fill="#aaaaaa"/>
<rect x="545" y="379.1" width="1" height="42.9" fill="#b2b2b2"/>
<rect x="546" y="379.1" width="1" height="42.9" fill="#a9a9a9"/>
<rect x="547" y="379.6" width="1" height="42.4" fill="#9b9b9b"/>
<rect x="548" y="381.2" width="1" height="40.8" fill="#9c9c9c"/>
<rect x="549" y="384.9" width="1" height="37.1" fill="#aaaaaa"/>
<rect x="550" y="390.3" width="1" height="31.7" fill="#b2b2b2"/>
<rect x="551" y="386.2" width="1" height="35.8" fill="#a8a8a8"/>
<rect x="552" y="384.0" width="1" height="38.0" fill="#9b9b9b"/>
<rect x="553" y="383.7" width="1" height="38.3" fill="#9c9c9c"/>
<rect x="554" y="384.4" width="1" height="37.6" fill="#aaaaaa"/>
<rect x="555" y="386.3" width="1" height="35.7" fill="#b2b2b2"/>
<rect x="556" y="390.4" width="1" height="31.6" fill="#a8a8a8"/>
<rect x="557" y="396.1" width="1" height="25.9" fill="#9b9b9b"/>
<rect x="558" y="392.2" width="1" height="29.8" fill="#9c9c9c"/>
<rect x="559" y="390.4" width="1" height="31.6" fill="#aaaaaa"/>
<rect x="560" y="390.6" width="1" height="31.4" fill="#b2b2b2"/>
<rect x="561" y="390.9" width="1" height="31.1" fill="#a8a8a8"/>
<rect x="562" y="392.3" width="1" height="29.7" fill="#9b9b9b"/>
<rect x="563" y="395.7" width="1" height="26.3" fill="#9c9c9c"/>
<rect x="564" y="401.1" width="1" height="20.9" fill="#ababab"/>
<rect x="565" y="396.8" width="1" height="25.2" fill="#b2b2b2"/>
<rect x="566" y="394.5" width="1" height="27.5" fill="#a8a8a8"/>
<rect x="567" y="394.2" width="1" height="27.8" fill="#9b9b9b"/>
<rect x="568" y="394.3" width="1" height="27.7" fill="#9c9c9c"/>
<rect x="569" y="395.4" width="1" height="26.6" fill="#ababab"/>
<rect x="570" y="398.4" width="1" height="23.6" fill="#b2b2b2"/>
<rect x="571" y="402.8" width="1" height="19.2" fill="#a8a8a8"/>
<rect x="572" y="398.9" width="1" height="23.1" fill="#9b9b9b"/>
<rect x="573" y="396.8" width="1" height="25.2" fill="#9c9c9c"/>
<rect x="574" y="396.3" width="1" height="25.7" fill="#ababab"/>
<rect x="575" y="396.5" width="1" height="25.5" fill="#b2b2b2"/>
<rect x="576" y="397.7" width="1" height="24.3" fill="#a8a8a8"/>
<rect x="577" y="400.6" width="1" height="21.4" fill="#9a9a9a"/>
<rect x="578" y="405.0" width="1" height="17.0" fill="#9d9d9d"/>
<rect x="579" y="401.2" width="1" height="20.8" fill="#ababab"/>
<rect x="580" y="399.3" width="1" height="22.7" fill="#b2b2b2"/>
<rect x="581" y="399.0" width="1" height="23.0" fill="#a8a8a8"/>
<rect x="582" y="398.9" width="1" height="23.1" fill="#9a9a9a"/>
<rect x="583" y="399.4" width="1" height="22.6" fill="#9d9d9d"/>
<rect x="584" y="401.5" width="1" height="20.5" fill="#ababab"/>
<rect x="585" y="405.0" width="1" height="17.0" fill="#b2b2b2"/>
<rect x="586" y="401.3" width="1" height="20.7" fill="#a7a7a7"/>
<rect x="587" y="398.9" width="1" height="23.1" fill="#9a9a9a"/>
<rect x="588" y="398.1" width="1" height="23.9" fill="#9d9d9d"/>
<rect x="589" y="397.8" width="1" height="24.2" fill="#ababab"/>
<rect x="590" y="398.3" width="1" height="23.7" fill="#b2b2b2"/>
<rect x="591" y="398.3" width="1" height="23.7" fill="#a7a7a7"/>
<rect x="592" y="400.6" width="1" height="21.4" fill="#9a9a9a"/>
<rect x="593" y="404.4" width="1" height="17.6" fill="#9d9d9d"/>
<rect x="594" y="400.2" width="1" height="21.8" fill="#ababab"/>
<rect x="595" y="397.7" width="1" height="24.3" fill="#b2b2b2"/>
<rect x="596" y="396.8" width="1" height="25.2" fill="#a7a7a7"/>
<rect x="597" y="396.5" width="1" height="25.5" fill="#9a9a9a"/>
<rect x="598" y="397.0" width="1" height="25.0" fill="#9d9d9d"/>
<rect x="599" y="398.9" width="1" height="23.1" fill="#acacac"/>
<rect x="600" y="402.5" width="1" height="19.5" fill="#b2b2b2"/>
<rect x="601" y="398.1" width="1" height="23.9" fill="#a7a7a7"/>
<rect x="602" y="395.2" width="1" height="26.8" fill="#9a9a9a"/>
<rect x="603" y="394.1" width="1" height="27.9" fill="#9d9d9d"/>
<rect x="604" y="393.5" width="1" height="28.5" fill="#acacac"/>
<rect x="605" y="393.3" width="1" height="28.7" fill="#b2b2b2"/>
<rect x="606" y="394.2" width="1" height="27.8" fill="#a7a7a7"/>
<rect x="607" y="396.4" width="1" height="25.6" fill="#9a9a9a"/>
<rect x="608" y="393.4" width="1" height="28.6" fill="#9d9d9d"/>
<rect x="609" y="391.0" width="1" height="31.0" fill="#acacac"/>
<rect x="610" y="389.8" width="1" height="32.2" fill="#b2b2b2"/>
<rect x="611" y="389.0" width="1" height="33.0" fill="#a7a7a7"/>
<rect x="612" y="389.6" width="1" height="32.4" fill="#9a9a9a"/>
<rect x="613" y="392.6" width="1" height="29.4" fill="#9d9d9d"/>
<rect x="614" y="397.3" width="1" height="24.7" fill="#acacac"/>
<rect x="615" y="392.7" width="1" height="29.3" fill="#b2b2b2"/>
<rect x="616" y="389.9" width="1" height="32.1" fill="#a6a6a6"/>
<rect x="617" y="389.1" width="1" height="32.9" fill="#9a9a9a"/>
<rect x="618" y="389.0" width="1" height="33.0" fill="#9d9d9d"/>
<rect x="619" y="389.0" width="1" height="33.0" fill="#acacac"/>
<rect x="620" y="391.0" width="1" height="31.0" fill="#b2b2b2"/>
<rect x="621" y="395.4" width="1" height="26.6" fill="#a6a6a6"/>
<rect x="622" y="389.5" width="1" height="32.5" fill="#9a9a9a"/>
<rect x="623" y="385.4" width="1" height="36.6" fill="#9e9e9e"/>
<rect x="624" y="383.4" width="1" height="38.6" fill="#acacac"/>
<rect x="625" y="382.4" width="1" height="39.6" fill="#b2b2b2"/>
<rect x="626" y="383.1" width="1" height="38.9" fill="#a6a6a6"/>
<rect x="627" y="386.0" width="1" height="36.0" fill="#9a9a9a"/>
<rect x="628" y="390.4" width="1" height="31.6" fill="#9e9e9e"/>
<rect x="629" y="385.4" width="1" height="36.6" fill="#acacac"/>
<rect x="630" y="382.1" width="1" height="39.9" fill="#b2b2b2"/>
<rect x="631" y="380.9" width="1" height="41.1" fill="#a6a6a6"/>
<rect x="632" y="380.5" width="1" height="41.5" fill="#9a9a9a"/>
<rect x="633" y="381.5" width="1" height="40.5" fill="#9e9e9e"/>
<rect x="634" y="385.2" width="1" height="36.8" fill="#adadad"/>
<rect x="635" y="390.9" width="1" height="31.1" fill="#b1b1b1"/>
<rect x="636" y="385.2" width="1" height="36.8" fill="#a6a6a6"/>
<rect x="637" y="381.8" width="1" height="40.2" fill="#9a9a9a"/>
<rect x="638" y="380.7" width="1" height="41.3" fill="#9e9e9e"/>
<rect x="639" y="380.5" width="1" height="41.5" fill="#adadad"/>
<rect x="640" y="381.4" width="1" height="40.6" fill="#b1b1b1"/>
<rect x="641" y="385.2" width="1" height="36.8" fill="#a6a6a6"/>
<rect x="642" y="391.5" width="1" height="30.5" fill="#9a9a9a"/>
<rect x="643" y="384.9" width="1" height="37.1" fill="#9e9e9e"/>
<rect x="644" y="380.8" width="1" height="41.2" fill="#adadad"/>
<rect x="645" y="379.4" width="1" height="42.6" fill="#b1b1b1"/>
<rect x="646" y="379.1" width="1" height="42.9" fill="#a5a5a5"/>
<rect x="647" y="380.2" width="1" height="41.8" fill="#9a9a9a"/>
<rect x="648" y="384.0" width="1" height="38.0" fill="#9e9e9e"/>
<rect x="649" y="389.9" width="1" height="32.1" fill="#adadad"/>
<rect x="650" y="383.9" width="1" height="38.1" fill="#b1b1b1"/>
<rect x="651" y="380.3" width="1" height="41.7" fill="#a5a5a5"/>
<rect x="652" y="379.1" width="1" height="42.9" fill="#9a9a9a"/>
<rect x="653" y="379.1" width="1" height="42.9" fill="#9e9e9e"/>
<rect x="654" y="380.5" width="1" height="41.5" fill="#adadad"/>
<rect x="655" y="384.6" width="1" height="37.4" fill="#b1b1b1"/>
<rect x="656" y="390.7" width="1" height="31.3" fill="#a5a5a5"/>
<rect x="657" y="385.1" width="1" height="36.9" fill="#999999"/>
<rect x="658" y="382.1" width="1" height="39.9" fill="#9f9f9f"/>
<rect x="659" y="381.4" width="1" height="40.6" fill="#adadad"/>
<rect x="660" y="381.7" width="1" height="40.3" fill="#b1b1b1"/>
<rect x="661" y="383.1" width="1" height="38.9" fill="#a5a5a5"/>
<rect x="662" y="386.6" width="1" height="35.4" fill="#999999"/>
<rect x="663" y="391.5" width="1" height="30.5" fill="#9f9f9f"/>
<rect x="664" y="387.6" width="1" height="34.4" fill="#adadad"/>
<rect x="665" y="385.5" width="1" height="36.5" fill="#b1b1b1"/>
<rect x="666" y="385.2" width="1" height="36.8" fill="#a5a5a5"/>
<rect x="667" y="385.5" width="1" height="36.5" fill="#999999"/>
<rect x="668" y="386.7" width="1" height="35.3" fill="#9f9f9f"/>
<rect x="669" y="390.3" width="1" height="31.7" fill="#adadad"/>
<rect x="670" y="396.2" width="1" height="25.8" fill="#b1b1b1"/>
<rect x="671" y="391.2" width="1" height="30.8" fill="#a5a5a5"/>
<rect x="672" y="388.3" width="1" height="33.7" fill="#999999"/>
<rect x="673" y="387.6" width="1" height="34.4" fill="#9f9f9f"/>
<rect x="674" y="387.7" width="1" height="34.3" fill="#aeaeae"/>
<rect x="675" y="389.2" width="1" height="32.8" fill="#b1b1b1"/>
<rect x="676" y="393.2" width="1" height="28.8" fill="#a4a4a4"/>
<rect x="677" y="399.0" width="1" height="23.0" fill="#999999"/>
<rect x="678" y="394.0" width="1" height="28.0" fill="#9f9f9f"/>
<rect x="679" y="391.4" width="1" height="30.6" fill="#aeaeae"/>
<rect x="680" y="391.1" width="1" height="30.9" fill="#b1b1b1"/>
<rect x="681" y="391.2" width="1" height="30.8" fill="#a4a4a4"/>
<rect x="682" y="392.3" width="1" height="29.7" fill="#999999"/>
<rect x="683" y="395.2" width="1" height="26.8" fill="#9f9f9f"/>
<rect x="684" y="399.6" width="1" height="22.4" fill="#aeaeae"/>
<rect x="685" y="395.6" width="1" height="26.4" fill="#b1b1b1"/>
<rect x="686" y="393.3" width="1" height="28.7" fill="#a4a4a4"/>
<rect x="687" y="392.8" width="1" height="29.2" fill="#999999"/>
<rect x="688" y="393.0" width="1" height="29.0" fill="#9f9f9f"/>
<rect x="689" y="394.0" width="1" height="28.0" fill="#aeaeae"/>
<rect x="690" y="396.7" width="1" height="25.3" fill="#b1b1b1"/>
<rect x="691" y="400.5" width="1" height="21.5" fill="#a4a4a4"/>
<rect x="692" y="397.3" width="1" height="24.7" fill="#999999"/>
<rect x="693" y="395.6" width="1" height="26.4" fill="#9f9f9f"/>
<rect x="694" y="395.4" width="1" height="26.6" fill="#aeaeae"/>
<rect x="695" y="395.5" width="1" height="26.5" fill="#b1b1b1"/>
<rect x="696" y="396.2" width="1" height="25.8" fill="#a4a4a4"/>
<rect x="697" y="398.7" width="1" height="23.3" fill="#999999"/>
<rect x="698" y="402.6" width="1" height="19.4" fill="#a0a0a0"/>
<rect x="699" y="398.8" width="1" height="23.2" fill="#aeaeae"/>
<rect x="700" y="396.8" width="1" height="25.2" fill="#b1b1b1"/>
<rect x="701" y="396.3" width="1" height="25.7" fill="#a4a4a4"/>
<rect x="702" y="396.1" width="1" height="25.9" fill="#999999"/>
<rect x="703" y="396.5" width="1" height="25.5" fill="#a0a0a0"/>
<rect x="704" y="398.3" width="1" height="23.7" fill="#aeaeae"/>
<rect x="705" y="401.3" width="1" height="20.7" fill="#b1b1b1"/>
<rect x="706" y="398.3" width="1" height="23.7" fill="#a3a3a3"/>
<rect x="707" y="396.2" width="1" height="25.8" fill="#999999"/>
<rect x="708" y="395.5" width="1" height="26.5" fill="#a0a0a0"/>
<rect x="709" y="395.2" width="1" height="26.8" fill="#aeaeae"/>
<rect x="710" y="395.7" width="1" height="26.3" fill="#b1b1b1"/>
<rect x="711" y="398.4" width="1" height="23.6" fill="#a3a3a3"/>
<rect x="712" y="403.2" width="1" height="18.8" fill="#999999"/>
<rect x="713" y="398.2" width="1" height="23.8" fill="#a0a0a0"/>
<rect x="714" y="395.0" width="1" height="27.0" fill="#afafaf"/>
<rect x="715" y="393.9" width="1" height="28.1" fill="#b0b0b0"/>
<rect x="716" y="393.5" width="1" height="28.5" fill="#a3a3a3"/>
<rect x="717" y="394.1" width="1" height="27.9" fill="#999999"/>
<rect x="718" y="396.8" width="1" height="25.2" fill="#a0a0a0"/>
<rect x="719" y="401.2" width="1" height="20.8" fill="#afafaf"/>
<rect x="720" y="396.3" width="1" height="25.7" fill="#b0b0b0"/>
<rect x="721" y="393.1" width="1" height="28.9" fill="#a3a3a3"/>
<rect x="722" y="391.9" width="1" height="30.1" fill="#999999"/>
<rect x="723" y="391.4" width="1" height="30.6" fill="#a0a0a0"/>
<rect x="724" y="392.2" width="1" height="29.8" fill="#afafaf"/>
<rect x="725" y="395.3" width="1" height="26.7" fill="#b0b0b0"/>
<rect x="726" y="400.5" width="1" height="21.5" fill="#a3a3a3"/>
<rect x="727" y="394.9" width="1" height="27.1" fill="#999999"/>
<rect x="728" y="391.5" width="1" height="30.5" fill="#a1a1a1"/>
<rect x="729" y="390.4" width="1" height="31.6" fill="#afafaf"/>
<rect x="730" y="389.9" width="1" height="32.1" fill="#b0b0b0"/>
<rect x="731" y="390.2" width="1" height="31.8" fill="#a3a3a3"/>
<rect x="732" y="392.9" width="1" height="29.1" fill="#999999"/>
<rect x="733" y="397.4" width="1" height="24.6" fill="#a1a1a1"/>
<rect x="734" y="392.0" width="1" height="30.0" fill="#afafaf"/>
<rect x="735" y="388.4" width="1" height="33.6" fill="#b0b0b0"/>
<rect x="736" y="387.0" width="1" height="35.0" fill="#a3a3a3"/>
<rect x="737" y="386.4" width="1" height="35.6" fill="#999999"/>
<rect x="738" y="387.2" width="1" height="34.8" fill="#a1a1a1"/>
<rect x="739" y="390.4" width="1" height="31.6" fill="#afafaf"/>
<rect x="740" y="395.5" width="1" height="26.5" fill="#b0b0b0"/>
<rect x="741" y="395.5" width="1" height="26.5" fill="#a2a2a2"/>
<rect x="742" y="390.1" width="1" height="31.9" fill="#999999"/>
<rect x="743" y="386.8" width="1" height="35.2" fill="#a1a1a1"/>
<rect x="744" y="385.7" width="1" height="36.3" fill="#afafaf"/>
<rect x="745" y="385.3" width="1" height="36.7" fill="#b0b0b0"/>
<rect x="746" y="385.6" width="1" height="36.4" fill="#a2a2a2"/>
<rect x="747" y="388.8" width="1" height="33.2" fill="#999999"/>
<rect x="748" y="394.7" width="1" height="27.3" fill="#a1a1a1"/>
<rect x="749" y="387.8" width="1" height="34.2" fill="#afafaf"/>
<rect x="750" y="383.1" width="1" height="38.9" fill="#b0b0b0"/>
<rect x="751" y="381.1" width="1" height="40.9" fill="#a2a2a2"/>
<rect x="752" y="380.3" width="1" height="41.7" fill="#999999"/>
<rect x="753" y="381.8" width="1" height="40.2" fill="#a1a1a1"/>
<rect x="754" y="386.7" width="1" height="35.3" fill="#afafaf"/>
<rect x="755" y="394.0" width="1" height="28.0" fill="#b0b0b0"/>
<rect x="756" y="386.6" width="1" height="35.4" fill="#a2a2a2"/>
<rect x="757" y="382.5" width="1" height="39.5" fill="#999999"/>
<rect x="758" y="381.4" width="1" height="40.6" fill="#a1a1a1"/>
<rect x="759" y="381.3" width="1" height="40.7" fill="#afafaf"/>
<rect x="760" y="382.1" width="1" height="39.9" fill="#b0b0b0"/>
<rect x="761" y="385.8" width="1" height="36.2" fill="#a2a2a2"/>
<rect x="762" y="391.8" width="1" height="30.2" fill="#999999"/>
<rect x="763" y="385.1" width="1" height="36.9" fill="#a2a2a2"/>
<rect x="764" y="381.0" width="1" height="41.0" fill="#b0b0b0"/>
<rect x="765" y="379.6" width="1" height="42.4" fill="#b0b0b0"/>
<rect x="766" y="379.0" width="1" height="43.0" fill="#a2a2a2"/>
<rect x="767" y="380.0" width="1" height="42.0" fill="#999999"/>
<rect x="768" y="383.6" width="1" height="38.4" fill="#a2a2a2"/>
<rect x="769" y="389.0" width="1" height="33.0" fill="#b0b0b0"/>
<rect x="770" y="389.0" width="1" height="33.0" fill="#b0b0b0"/>
<rect x="771" y="382.0" width="1" height="40.0" fill="#a1a1a1"/>
<rect x="772" y="372.0" width="1" height="50.0" fill="#999999"/>
<rect x="773" y="362.0" width="1" height="60.0" fill="#a2a2a2"/>
<rect x="774" y="366.0" width="1" height="56.0" fill="#b0b0b0"/>
<rect x="775" y="378.0" width="1" height="44.0" fill="#afafaf"/>
<rect x="776" y="381.0" width="1" height="41.0" fill="#a1a1a1"/>
<rect x="777" y="325.0" width="1" height="97.0" fill="#999999"/>
<rect x="778" y="316.0" width="1" height="106.0" fill="#a2a2a2"/>
<rect x="779" y="308.0" width="1" height="114.0" fill="#b0b0b0"/>
<rect x="780" y="310.0" width="1" height="112.0" fill="#afafaf"/>
<rect x="781" y="314.0" width="1" height="108.0" fill="#a1a1a1"/>
<rect x="782" y="325.0" width="1" height="97.0" fill="#999999"/>
<rect x="783" y="336.0" width="1" height="86.0" fill="#a2a2a2"/>
<rect x="784" y="291.0" width="1" height="131.0" fill="#b0b0b0"/>
<rect x="785" y="274.0" width="1" height="148.0" fill="#afafaf"/>
<rect x="786" y="268.0" width="1" height="154.0" fill="#a1a1a1"/>
<rect x="787" y="261.0" width="1" height="161.0" fill="#999999"/>
<rect x="788" y="257.0" width="1" height="165.0" fill="#a2a2a2"/>
<rect x="789" y="276.0" width="1" height="146.0" fill="#b0b0b0"/>
<rect x="790" y="290.0" width="1" height="132.0" fill="#afafaf"/>
<rect x="791" y="285.0" width="1" height="137.0" fill="#a1a1a1"/>
<rect x="792" y="250.0" width="1" height="172.0" fill="#999999"/>
<rect x="793" y="236.0" width="1" height="186.0" fill="#a3a3a3"/>
<rect x="794" y="225.0" width="1" height="197.0" fill="#b0b0b0"/>
<rect x="795" y="226.0" width="1" height="196.0" fill="#afafaf"/>
<rect x="796" y="249.0" width="1" height="173.0" fill="#a1a1a1"/>
<rect x="797" y="270.0" width="1" height="152.0" fill="#999999"/>
<rect x="798" y="280.0" width="1" height="142.0" fill="#a3a3a3"/>
<rect x="799" y="207.0" width="1" height="215.0" fill="#b0b0b0"/>
<rect x="800" y="203.0" width="1" height="219.0" fill="#afafaf"/>
<rect x="801" y="201.0" width="1" height="221.0" fill="#a1a1a1"/>
<rect x="802" y="201.0" width="1" height="221.0" fill="#999999"/>
<rect x="803" y="221.0" width="1" height="201.0" fill="#a3a3a3"/>
<rect x="804" y="256.0" width="1" height="166.0" fill="#b0b0b0"/>
<rect x="805" y="216.0" width="1" height="206.0" fill="#afafaf"/>
<rect x="806" y="210.0" width="1" height="212.0" fill="#a0a0a0"/>
<rect x="807" y="207.0" width="1" height="215.0" fill="#999999"/>
<rect x="808" y="209.0" width="1" height="213.0" fill="#a3a3a3"/>
<rect x="809" y="215.0" width="1" height="207.0" fill="#b0b0b0"/>
<rect x="810" y="225.0" width="1" height="197.0" fill="#afafaf"/>
<rect x="811" y="288.0" width="1" height="134.0" fill="#a0a0a0"/>
<rect x="812" y="268.0" width="1" height="154.0" fill="#999999"/>
<rect x="813" y="244.0" width="1" height="178.0" fill="#a3a3a3"/>
<rect x="814" y="240.0" width="1" height="182.0" fill="#b0b0b0"/>
<rect x="815" y="240.0" width="1" height="182.0" fill="#afafaf"/>
</g>
<rect x="66" y="421.2" width="750" height="1" fill="#c6d1e9"/>
<rect x="638.6" y="421.6" width="53.4" height="1" fill="#888" fill-opacity="0.12"/>
<g class="lc" fill="#666" font-size="13.7">
<text transform="translate(70.80,441.5) rotate(-45)" text-anchor="end">Jan 22, …</text>
<text transform="translate(106.04,441.5) rotate(-45)" text-anchor="end">Feb 26, 2020</text>
<text transform="translate(141.27,441.5) rotate(-45)" text-anchor="end">Apr 01, 2020</text>
<text transform="translate(176.51,441.5) rotate(-45)" text-anchor="end">May 06, 2020</text>
<text transform="translate(211.74,441.5) rotate(-45)" text-anchor="end">Jun 10, 2020</text>
<text transform="translate(246.98,441.5) rotate(-45)" text-anchor="end">Jul 15, 2020</text>
<text transform="translate(282.21,441.5) rotate(-45)" text-anchor="end">Aug 19, 2020</text>
<text transform="translate(317.45,441.5) rotate(-45)" text-anchor="end">Sep 23, 2020</text>
<text transform="translate(352.68,441.5) rotate(-45)" text-anchor="end">Oct 28, 2020</text>
<text transform="translate(387.92,441.5) rotate(-45)" text-anchor="end">Dec 02, 2020</text>
<text transform="translate(423.15,441.5) rotate(-45)" text-anchor="end">Jan 06, 2021</text>
<text transform="translate(458.39,441.5) rotate(-45)" text-anchor="end">Feb 10, 2021</text>
<text transform="translate(493.62,441.5) rotate(-45)" text-anchor="end">Mar 17, 2021</text>
<text transform="translate(528.86,441.5) rotate(-45)" text-anchor="end">Apr 21, 2021</text>
<text transform="translate(564.09,441.5) rotate(-45)" text-anchor="end">May 26, 2021</text>
<text transform="translate(599.33,441.5) rotate(-45)" text-anchor="end">Jun 30, 2021</text>
<text transform="translate(634.56,441.5) rotate(-45)" text-anchor="end">Aug 04, 2021</text>
<text transform="translate(669.80,441.5) rotate(-45)" text-anchor="end">Sep 08, 2021</text>
<text transform="translate(705.03,441.5) rotate(-45)" text-anchor="end">Oct 13, 2021</text>
<text transform="translate(740.27,441.5) rotate(-45)" text-anchor="end">Nov 17, 2021</text>
<text transform="translate(775.50,441.5) rotate(-45)" text-anchor="end">Dec 22, 2021</text>
<text transform="translate(810.74,441.5) rotate(-45)" text-anchor="end">Jan 26, 2022</text>
</g>
<g>
<rect x="300" y="541.2" width="20.3" height="2" fill="#cccccc"/>
<circle cx="310" cy="542.2" r="4.6" fill="#cccccc"/>
<text x="327.5" y="548" fill="#cccccc" textLength="162.3" lengthAdjust="spacingAndGlyphs" style="font-family:'Liberation Sans',Arial,sans-serif;font-weight:bold;font-size:16.2px">7<tspan font-size="21" dy="1.3" dx="0.5">-</tspan><tspan dy="-1.3" dx="0.8">day moving average</tspan></text>
<rect x="517" y="537.8" width="13.2" height="13.4" rx="2.6" fill="#fff" stroke="#c4c4c4" stroke-width="1.3"/>
</g>
</svg>
</body></html>
